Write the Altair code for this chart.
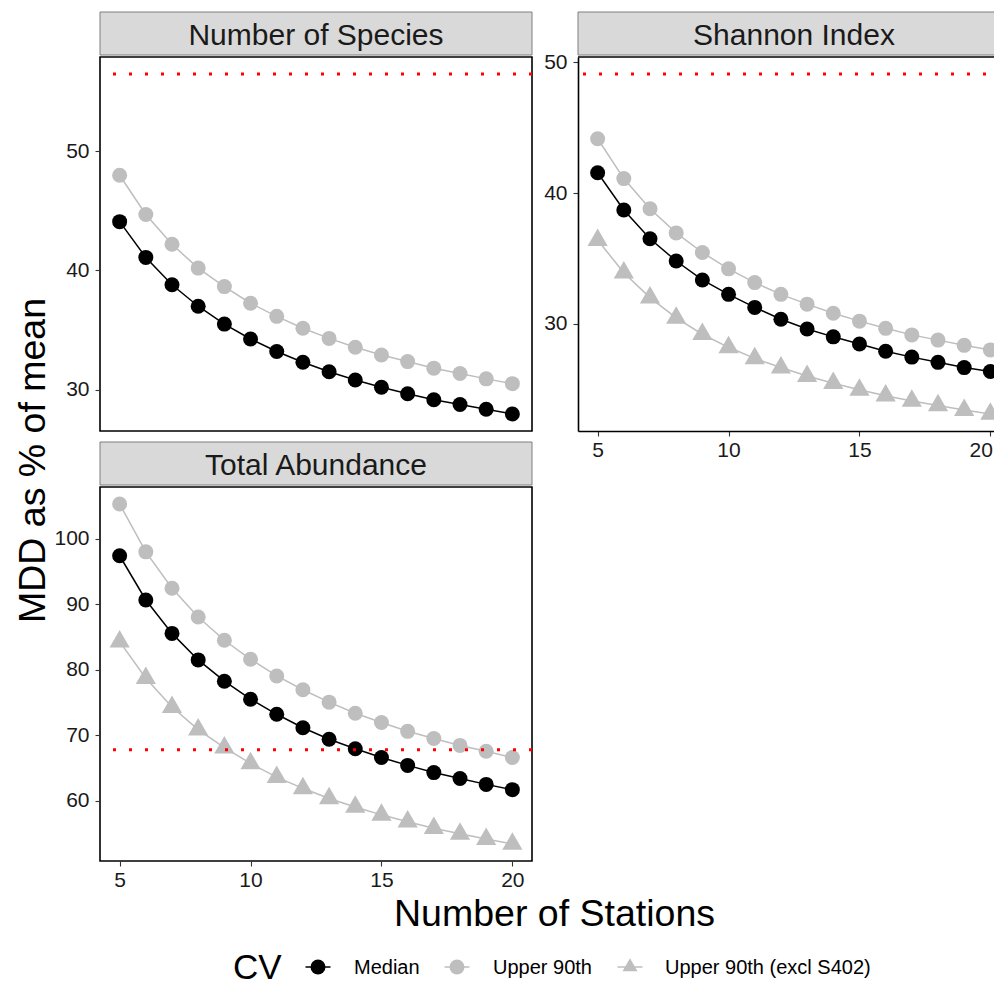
import altair as alt
import pandas as pd

# ---------------- data ----------------
stations = list(range(5, 21))
panel_names = ["Number of Species", "Shannon Index", "Total Abundance"]
series_names = ["Median", "Upper 90th", "Upper 90th (excl S402)"]
series_colors = ["#000000", "#BEBEBE", "#BEBEBE"]

species_median = [44.1, 41.1, 38.8, 37.0, 35.5, 34.25, 33.2, 32.3, 31.5, 30.8, 30.2, 29.65, 29.15, 28.75, 28.35, 27.95]
species_upper = [48.0, 44.7, 42.2, 40.2, 38.65, 37.25, 36.15, 35.15, 34.3, 33.55, 32.9, 32.35, 31.8, 31.35, 30.9, 30.5]

shannon_median = [41.55, 38.7, 36.5, 34.8, 33.35, 32.25, 31.25, 30.35, 29.6, 29.0, 28.45, 27.9, 27.45, 27.05, 26.65, 26.35]
shannon_upper = [44.15, 41.1, 38.8, 36.95, 35.45, 34.2, 33.15, 32.25, 31.5, 30.8, 30.2, 29.65, 29.15, 28.75, 28.35, 28.0]
shannon_excl = [36.4, 33.9, 32.0, 30.45, 29.2, 28.2, 27.35, 26.65, 26.0, 25.45, 24.95, 24.5, 24.1, 23.75, 23.4, 23.1]

abund_median = [97.4, 90.65, 85.55, 81.5, 78.25, 75.5, 73.2, 71.15, 69.4, 67.95, 66.6, 65.4, 64.3, 63.4, 62.5, 61.7]
abund_upper = [105.3, 98.0, 92.45, 88.05, 84.5, 81.6, 79.05, 76.95, 75.05, 73.35, 71.95, 70.6, 69.5, 68.45, 67.55, 66.6]
abund_excl = [84.3, 78.7, 74.3, 70.85, 68.1, 65.7, 63.6, 61.9, 60.35, 59.05, 57.85, 56.8, 55.8, 54.95, 54.15, 53.4]

ref_lines = [56.5, 49.1, 67.8]
x_ticks = [5, 10, 15, 20]
y_ticks = [[30, 40, 50], [30, 40, 50], [60, 70, 80, 90, 100]]

panel_series = {
    "Number of Species": {"Median": species_median, "Upper 90th": species_upper},
    "Shannon Index": {"Median": shannon_median, "Upper 90th": shannon_upper,
                      "Upper 90th (excl S402)": shannon_excl},
    "Total Abundance": {"Median": abund_median, "Upper 90th": abund_upper,
                        "Upper 90th (excl S402)": abund_excl},
}

rows = []
for pname, sdict in panel_series.items():
    for sname, vals in sdict.items():
        for st, v in zip(stations, vals):
            rows.append({"panel": pname, "series": sname, "stations": st, "mdd": v})
df = pd.DataFrame(rows)

# ---------------- layout / style ----------------
FONT = "Liberation Sans"
W = 432          # panel width (px)
H = 374          # panel height (px)
W2 = 424         # right panel is cut by the picture edge
UNIT = 16.5 / W  # data units per px on x
ORIGIN_X, ORIGIN_Y = 100, 57          # page position of first panel
SVG_X, SVG_Y = 8, 8                   # where the page puts the drawing
COL_GAP, ROW_GAP = 46, 56
SVG_W, SVG_H = 986, 979

TRI = "M0,-1.155L1,0.577L-1,0.577Z"
color_scale = alt.Scale(domain=series_names, range=series_colors)

# legend geometry (page px), converted to the legend cell's own frame
leg_ox = ORIGIN_X + W + COL_GAP
leg_oy = ORIGIN_Y + H + ROW_GAP
leg_sym_page = [318, 457, 630]
leg_lab_page = [354, 493, 665]
leg_yc = 967 - leg_oy
legend_tbl = pd.DataFrame({
    "series": series_names,
    "sx": [v - leg_ox for v in leg_sym_page],
    "x0": [v - leg_ox - 12.5 for v in leg_sym_page],
    "x1": [v - leg_ox + 12.5 for v in leg_sym_page],
    "lx": [v - leg_ox for v in leg_lab_page],
})
legend_title = pd.DataFrame({"t": ["CV"]})


def panel(i, width, height, x_axis, y_axis, open_right=False):
    name = panel_names[i]
    d = df[df["panel"] == name]
    ref = ref_lines[i]
    lo = min(d["mdd"].min(), ref)
    hi = max(d["mdd"].max(), ref)
    pad = 0.05 * (hi - lo)
    yscale = alt.Scale(domain=[lo - pad, hi + pad], nice=False, zero=False)
    xscale = alt.Scale(domain=[4.25, 4.25 + width * UNIT], nice=False, zero=False)
    x = alt.X("stations:Q", scale=xscale, axis=x_axis)

    def y(field):
        return alt.Y(field, type="quantitative", scale=yscale, axis=y_axis)

    col = alt.Color("series:N", scale=color_scale, legend=None)
    base = alt.Chart(d)
    lines = base.mark_line(strokeWidth=1.5).encode(x=x, y=y("mdd"), color=col)
    circles = base.transform_filter(
        alt.FieldOneOfPredicate(field="series", oneOf=series_names[:2])
    ).mark_point(shape="circle", filled=True, opacity=1, size=225).encode(
        x=x, y=y("mdd"), color=col)
    tris = base.transform_filter(
        alt.FieldEqualPredicate(field="series", equal=series_names[2])
    ).mark_point(shape=TRI, filled=True, opacity=1, size=408).encode(
        x=x, y=y("mdd"), color=col)
    rule = alt.Chart(pd.DataFrame({"ref": [ref]})).mark_rule(
        color="#FF0000", strokeWidth=3, strokeDash=[3, 13], strokeCap="butt"
    ).encode(y=y("ref"))

    label_df = pd.DataFrame({"label": [name]})
    strip = alt.Chart(label_df).mark_rect(
        fill="#D9D9D9", stroke="#7F7F7F", strokeWidth=1
    ).encode(x=alt.value(0), x2=alt.value(width + (4 if open_right else 0)),
             y=alt.value(-45), y2=alt.value(-2))
    strip_text = alt.Chart(label_df).mark_text(
        font=FONT, fontSize=30, color="#1A1A1A", baseline="alphabetic", align="center"
    ).encode(x=alt.value(W / 2), y=alt.value(-12), text="label:N")

    layers = [lines, circles, tris, rule, strip, strip_text]
    if open_right:
        top = alt.Chart(label_df).mark_rule(color="#000000", strokeWidth=1.6).encode(
            y=alt.value(0))
        layers.append(top)
    ch = alt.layer(*layers).properties(width=width, height=height)
    if open_right:
        ch = ch.properties(view=alt.ViewBackground(stroke="transparent"))
    return ch


p1 = panel(
    0, W, H, x_axis=None,
    y_axis=alt.Axis(values=y_ticks[0], domain=False, title="MDD as % of mean",
                    titleX=-56, titleY=403, titleAngle=270, titleAlign="center",
                    titleBaseline="alphabetic", labelPadding=6),
)
p2 = panel(
    1, W2, H,
    x_axis=alt.Axis(values=x_ticks, domain=True, title=None, labelPadding=3,
                    labelFlush=15, labelFlushOffset=2),
    y_axis=alt.Axis(values=y_ticks[1], domain=True, title=None, labelPadding=6),
    open_right=True,
)
p3 = panel(
    2, W, H,
    x_axis=alt.Axis(values=x_ticks, domain=False, title="Number of Stations",
                    titleX=454, titleY=64, titleAlign="center", titleBaseline="alphabetic",
                    labelPadding=3),
    y_axis=alt.Axis(values=y_ticks[2], domain=False, title=None, labelPadding=6),
)

# legend cell (bottom-right grid cell, empty in the reference)
lb = alt.Chart(legend_tbl)
leg_lines = lb.mark_rule(strokeWidth=1.5).encode(
    x=alt.X("x0:Q", scale=None, axis=None), x2="x1:Q", y=alt.value(leg_yc),
    color=alt.Color("series:N", scale=color_scale, legend=None))
leg_pts = lb.mark_point(filled=True, opacity=1).encode(
    x=alt.X("sx:Q", scale=None, axis=None), y=alt.value(leg_yc),
    color=alt.Color("series:N", scale=color_scale, legend=None),
    shape=alt.Shape("series:N", scale=alt.Scale(domain=series_names,
                                                 range=["circle", "circle", TRI]), legend=None),
    size=alt.Size("series:N", scale=alt.Scale(domain=series_names, range=[225, 225, 408]),
                  legend=None))
leg_labels = lb.mark_text(font=FONT, fontSize=20, color="#000000", align="left",
                          baseline="alphabetic").encode(
    x=alt.X("lx:Q", scale=None, axis=None), y=alt.value(leg_yc + 7), text="series:N")
leg_title = alt.Chart(legend_title).mark_text(
    font=FONT, fontSize=35, color="#000000", align="left", baseline="alphabetic"
).encode(x=alt.value(233 - leg_ox), y=alt.value(leg_yc + 12), text="t:N")
legend_cell = alt.layer(leg_lines, leg_pts, leg_labels, leg_title).properties(
    width=W2, height=H, view=alt.ViewBackground(stroke="transparent"))

chart = alt.concat(
    p1, p2, p3, legend_cell, columns=2,
    spacing=alt.RowColnumber(row=ROW_GAP, column=COL_GAP),
    bounds="flush",
).properties(
    autosize=alt.AutoSizeParams(type="none"),
    padding={"left": ORIGIN_X - SVG_X, "top": ORIGIN_Y - SVG_Y,
             "right": SVG_W - (ORIGIN_X - SVG_X), "bottom": SVG_H - (ORIGIN_Y - SVG_Y)},
).configure(
    font=FONT
).configure_view(
    stroke="#000000", strokeWidth=1.6
).configure_axis(
    grid=False, tickSize=5, tickWidth=1.1, tickColor="#333333",
    labelFont=FONT, labelFontSize=21, labelColor="#1A1A1A",
    domainColor="#000000", domainWidth=1.6,
    titleFont=FONT, titleFontSize=37.5, titleFontWeight="normal", titleColor="#000000",
)

chart.save("out.html", embed_options={"renderer": "svg", "actions": False})
